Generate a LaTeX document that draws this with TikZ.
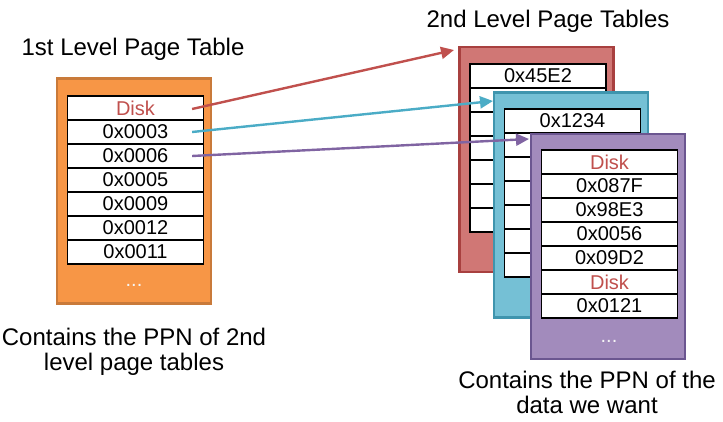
\documentclass[tikz,border=0pt]{standalone}
\usepackage{fontspec}
\setmainfont{Liberation Sans}
\usetikzlibrary{arrows.meta}
\definecolor{orF}{HTML}{F79646}
\definecolor{orD}{HTML}{C97A3A}
\definecolor{rdF}{HTML}{D07775}
\definecolor{rdD}{HTML}{A8403F}
\definecolor{blF}{HTML}{75C0D5}
\definecolor{blD}{HTML}{3F95AE}
\definecolor{puF}{HTML}{A28BBC}
\definecolor{puD}{HTML}{6B5690}
\definecolor{diskred}{HTML}{C0504D}
\definecolor{arrRed}{HTML}{C0504D}
\definecolor{arrBlue}{HTML}{4BACC6}
\definecolor{arrPurple}{HTML}{8064A2}
\newcommand\dsk{\textcolor{diskred}{Disk}}
\tikzset{
  cell/.style={draw=black, line width=1.2pt, fill=white, minimum width=136pt,
    minimum height=24pt, inner sep=0pt, font=\fontsize{20}{24}\selectfont},
  pagebox/.style={rectangle, line width=2.4pt, inner sep=0pt,
    minimum width=154pt, minimum height=225pt},
  arr/.style={line width=2.4pt, -{Triangle[length=13pt,width=12pt]}},
  title/.style={font=\fontsize{24}{24.5}\selectfont, inner sep=0pt},
  dots/.style={text=white!92!gray, font=\fontsize{20}{24}\selectfont, inner sep=0pt}
}
\begin{document}
\begin{tikzpicture}[x=1pt,y=-1pt]
\useasboundingbox (0,0) rectangle (723,422);
% titles
\node[title, anchor=base] (t1) at (133,56) {1st Level Page Table};
\node[title, anchor=base] (t2) at (548,28) {2nd Level Page Tables};
% first level
\node[pagebox, draw=orD, fill=orF] (L1) at (134,191) {};
\foreach \t [count=\i] in {\dsk,0x0003,0x0006,0x0005,0x0009,0x0012,0x0011}
  \node[cell] (a\i) at (135.5,{84+24*\i}) {\t};
\node[dots] (d1) at (134,285) {...};
% red
\node[pagebox, draw=rdD, fill=rdF] (R) at (536.5,159.5) {};
\foreach \t [count=\i] in {0x45E2,{},{},{},{},{},{}}
  \node[cell] (r\i) at (538,{52+24*\i}) {\t};
% blue
\node[pagebox, draw=blD, fill=blF] (B) at (571,205) {};
\foreach \t [count=\i] in {0x1234,{},{},{},{},{},{}}
  \node[cell] (b\i) at (572.5,{97+24*\i}) {\t};
% purple
\node[pagebox, draw=puD, fill=puF] (P) at (608,246.5) {};
\foreach \t [count=\i] in {\dsk,0x087F,0x98E3,0x0056,0x09D2,\dsk,0x0121}
  \node[cell] (p\i) at (609.5,{138+24*\i}) {\t};
\node[dots] (d2) at (609,341) {...};
% arrows
\coordinate (redtip) at (454,50);
\coordinate (bluetip) at (493,101);
\coordinate (purtip) at (529,139);
\draw[arr, arrRed] ([xshift=-12pt,yshift=-1pt]a1.east) -- (redtip);
\draw[arr, arrBlue] ([xshift=-12pt]a2.east) -- (bluetip);
\draw[arr, arrPurple] ([xshift=-12pt]a3.east) -- (purtip);
% captions (base = last line)
\node[title, anchor=base, align=center] (c1) at (134,370) {Contains the PPN of 2nd\\level page tables};
\node[title, anchor=base, align=center] (c2) at (587,413) {Contains the PPN of the\\data we want};
\end{tikzpicture}
\end{document}
